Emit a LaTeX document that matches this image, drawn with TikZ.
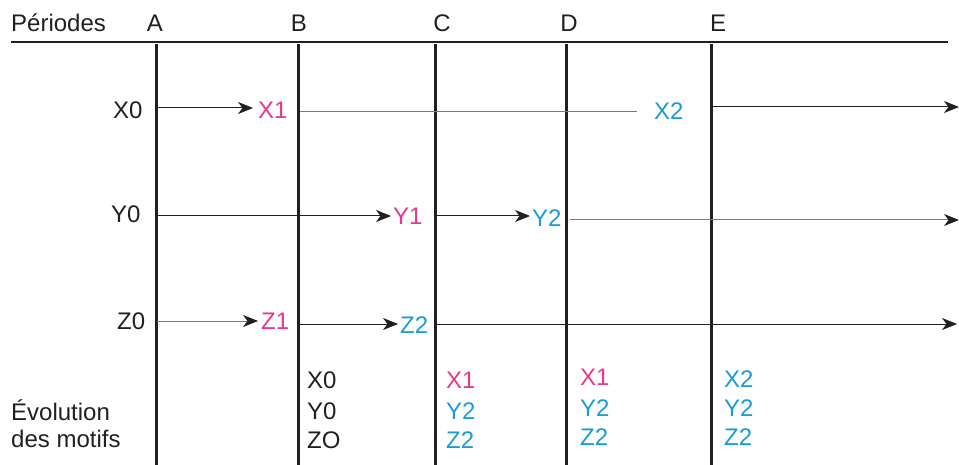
\documentclass[tikz,border=0pt]{standalone}
\usepackage{fontspec}
\setmainfont{Liberation Sans}
\usetikzlibrary{arrows.meta}
\definecolor{ink}{HTML}{231F20}
\definecolor{pinkc}{HTML}{E6398B}
\definecolor{bluec}{HTML}{1B9BD7}
\definecolor{greyl}{HTML}{7A7A7A}
\tikzset{
  txt/.style={inner sep=0pt, font=\fontsize{24}{30}\selectfont, text=ink, anchor=base west},
  hdr/.style={inner sep=0pt, font=\fontsize{24}{30}\selectfont, text=ink, anchor=base},
  pk/.style={txt, text=pinkc},
  bl/.style={txt, text=bluec},
  period/.style={line width=3pt, draw=ink},
  flow/.style={line width=1pt, draw=ink, -{Stealth[length=15pt,width=12pt,inset=4.5pt]}},
  flowg/.style={line width=1pt, draw=greyl, -{Stealth[length=15pt,width=12pt,inset=4.5pt,color=ink]}},
  plain/.style={line width=1pt, draw=greyl},
}
\begin{document}
\begin{tikzpicture}[x=1pt,y=-1pt]
\useasboundingbox (0,0) rectangle (959,465);
% header
\node[txt] (per) at (11,32) {Périodes};
\node[hdr] (hA) at (155,32) {A};
\node[hdr] (hB) at (299,32) {B};
\node[hdr] (hC) at (442,32) {C};
\node[hdr] (hD) at (569,32) {D};
\node[hdr] (hE) at (718,32) {E};
\coordinate (hl) at (11,42);
\coordinate (hr) at (948,42);
\draw[line width=1.6pt, draw=ink] (hl) -- (hr);
% period lines
\foreach \n/\x in {A/156,B/298.5,C/435.5,D/566,E/711.5}{
  \coordinate (\n t) at (\x,44);
  \coordinate (\n b) at (\x,465);
  \draw[period] (\n t) -- (\n b);
}
% row X
\node[txt] (x0) at (113,119) {X0};
\node[pk] (x1) at (258,119) {X1};
\node[bl] (x2) at (654,120) {X2};
\coordinate (xa) at (157,108);
\coordinate (xb) at (300,112);
\coordinate (xe) at (713,107);
\coordinate (xend) at (959,107);
\draw[flow] (xa) -- (x1.west |- xa) [shorten >=5pt];
\draw[plain] (xb) -- ([xshift=-17pt]x2.west |- xb);
\draw[flow] (xe) -- (xend);
% row Y
\node[txt] (y0) at (111,223) {Y0};
\node[pk] (y1) at (393,225) {Y1};
\node[bl] (y2) at (532,227) {Y2};
\coordinate (ya) at (157,216);
\coordinate (yc) at (437,216);
\coordinate (yd) at (570,220);
\coordinate (yend) at (959,220);
\draw[flow, shorten >=2pt] (ya) -- (y1.west |- ya);
\draw[flow, shorten >=2pt] (yc) -- (y2.west |- yc);
\draw[flowg] (yd) -- (yend);
% row Z
\node[txt] (z0) at (117,329) {Z0};
\node[pk] (z1) at (261,329) {Z1};
\node[bl] (z2) at (400,333) {Z2};
\coordinate (za) at (157,321);
\coordinate (zb) at (300,324);
\coordinate (zc) at (437,324);
\coordinate (zend) at (957,324);
\draw[flowg, shorten >=3pt] (za) -- (z1.west |- za);
\draw[flow, shorten >=2pt] (zb) -- (z2.west |- zb);
\draw[flow] (zc) -- (zend);
% bottom
\node[txt] (ev1) at (11,420) {Évolution};
\node[txt] (ev2) at (11,447) {des motifs};
\node[txt] (bx) at (307,388) {X0};
\node[txt] (by) at (307,419) {Y0};
\node[txt] (bz) at (307,448) {ZO};
\node[pk] (cx) at (446,388) {X1};
\node[bl] (cy) at (446,419) {Y2};
\node[bl] (cz) at (446,448) {Z2};
\node[pk] (dx) at (580,385) {X1};
\node[bl] (dy) at (580,416) {Y2};
\node[bl] (dz) at (580,445) {Z2};
\node[bl] (ex) at (724,387) {X2};
\node[bl] (ey) at (724,416) {Y2};
\node[bl] (ez) at (724,445) {Z2};
\end{tikzpicture}
\end{document}
